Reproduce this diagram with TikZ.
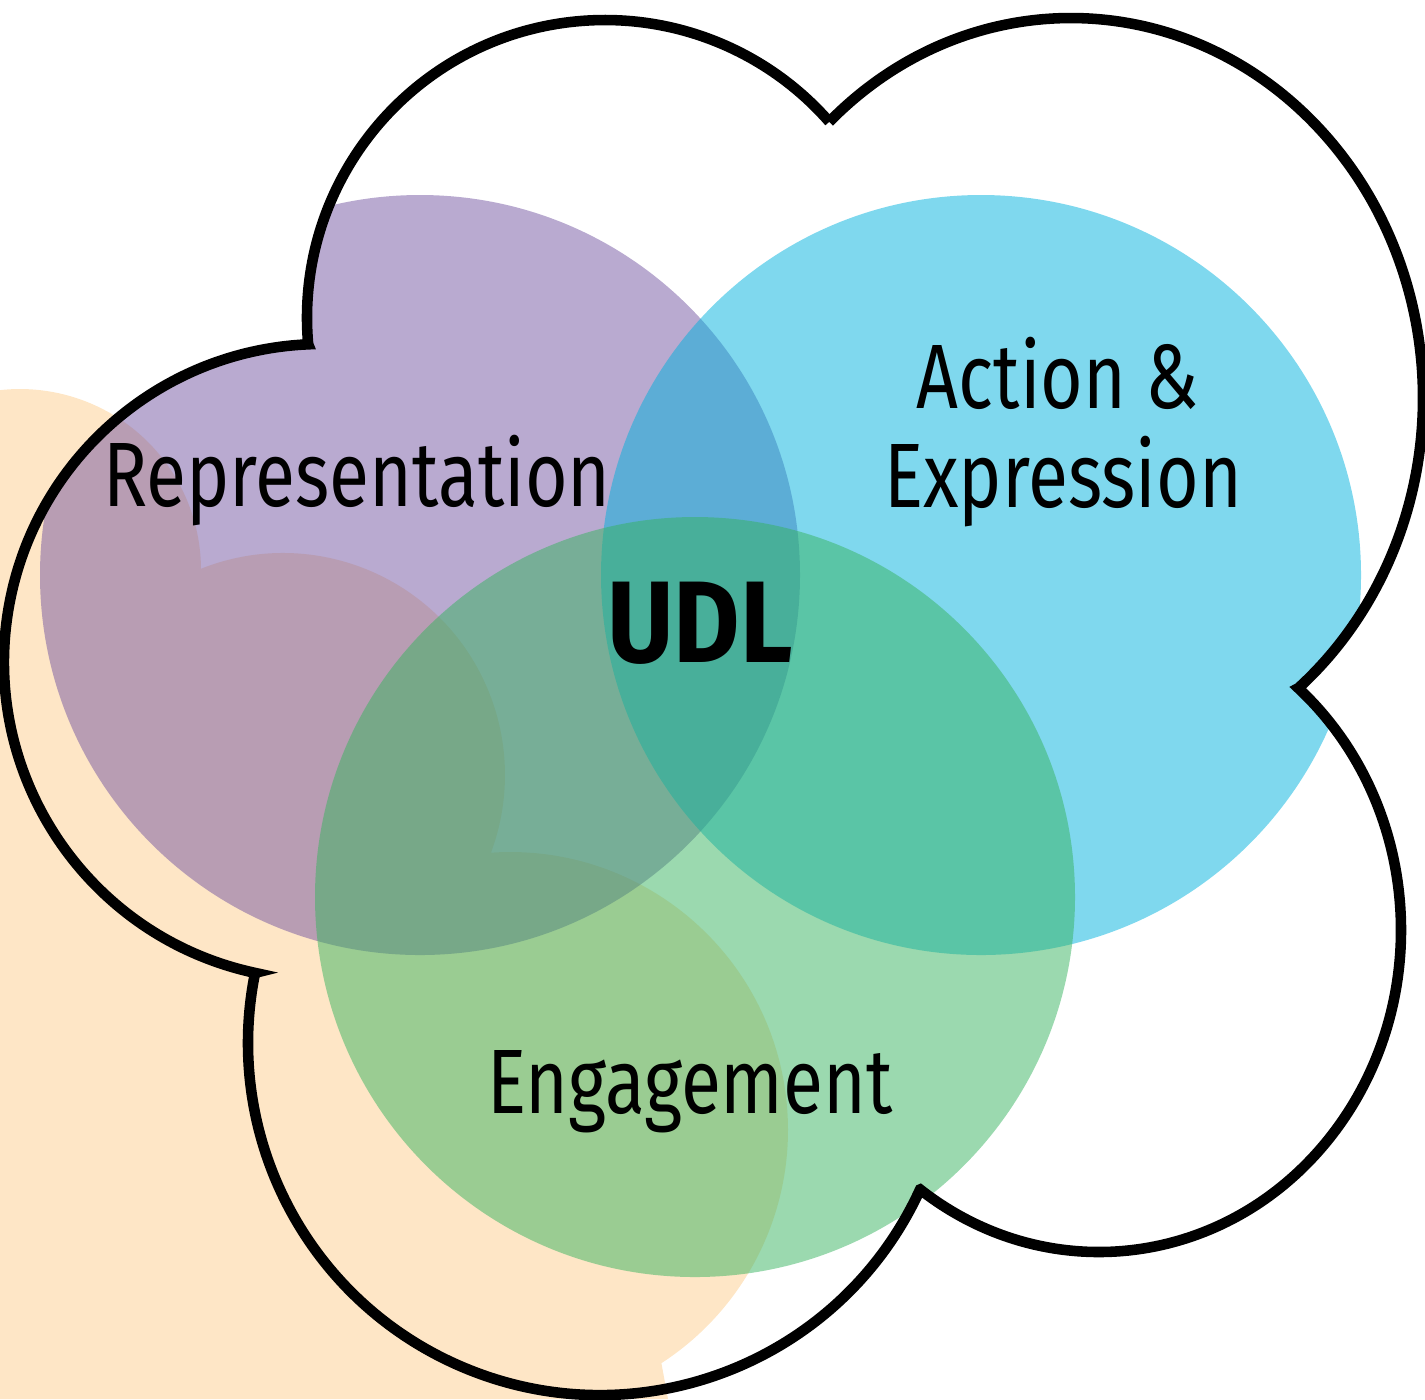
\documentclass[tikz,border=0pt]{standalone}
\usepackage{fontspec}
\newfontfamily\handfont[FakeStretch=0.8]{Fira Sans}
\newfontfamily\udlfont[FakeStretch=0.88]{Fira Sans}
\begin{document}
\begin{tikzpicture}[x=0.01cm,y=-0.01cm,
      cloudline/.style={line width=3pt,line join=miter,draw=black},
      petal/.style={fill=#1,fill opacity=0.5},
      petaltext/.style={font=\handfont\fontsize{26}{30}\selectfont,anchor=base,inner sep=0pt}]
      \useasboundingbox (0,0) rectangle (1425,1399);
      \definecolor{peach}{RGB}{254,230,198}
      \definecolor{reprcolor}{RGB}{115,85,161}
      \definecolor{actcolor}{RGB}{0,177,221}
      \definecolor{engcolor}{RGB}{55,179,95}
      % cloud outline, one arc per lobe
      \def\cloudpath{([shift={(605,318)}]174.94:298) arc[start angle=174.94,end angle=318.82,radius=298]
          -- ([shift={(1071,398)}]226.62:352 and 380) arc[start angle=226.62,end angle=409.77,x radius=352,y radius=380]
          -- ([shift={(1099,930)}]-48.7:302 and 322) arc[start angle=-48.7,end angle=126.32,x radius=302,y radius=322]
          -- ([shift={(600,1043)}]24.59:352) arc[start angle=24.59,end angle=191.49,radius=352]
          -- ([shift={(322,662)}]102.14:318) arc[start angle=102.14,end angle=267.51,radius=318]
          -- cycle}
      % the peach blob behind, cut by the page
      \fill[peach] (0,1399) -- ([shift={(20,570)}]-96.3:181) arc[start angle=-96.3,end angle=-0.4,radius=181]
          -- ([shift={(283,775)}]-111.7:222) arc[start angle=-111.7,end angle=20.4,radius=222]
          -- ([shift={(510,1130)}]-94.1:278) arc[start angle=-94.1,end angle=57,radius=278]
          -- (668,1399) -- cycle;
      \begin{scope}
          \clip \cloudpath;
          \fill[petal=reprcolor] (420,575) circle[radius=380];
          \fill[petal=actcolor] (981,575) circle[radius=380];
          \fill[petal=engcolor] (695,897) circle[radius=380];
      \end{scope}
      \draw[cloudline] \cloudpath;
      \node[petaltext] (repr) at (357,506) {Representation};
      \node[petaltext] (action) at (1058,408) {Action \&};
      \node[petaltext] (expr) at (1063,507) {Expression};
      \node[petaltext] (eng) at (690,1113) {Engagement};
      \node[petaltext,font=\udlfont\bfseries\fontsize{33}{36}\selectfont] (udl) at (700,662) {UDL};
\end{tikzpicture}
\end{document}
